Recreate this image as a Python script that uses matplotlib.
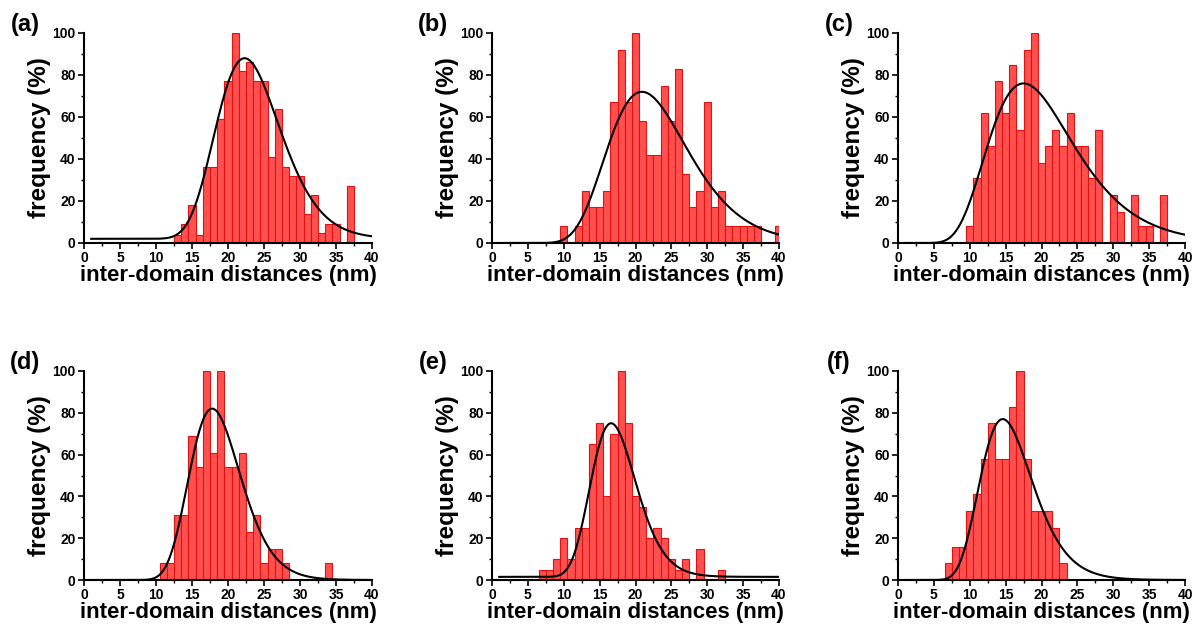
import numpy as np
import matplotlib
matplotlib.use('Agg')
import matplotlib.pyplot as plt
from matplotlib.ticker import MultipleLocator

plt.rcParams['font.family'] = ['Liberation Sans', 'DejaVu Sans']
plt.rcParams['font.weight'] = 'bold'

# histogram data: bin centres (nm) and frequency (%)
a_x = list(range(13, 38))
a_y = [4, 9, 18, 4, 36, 36, 59, 77, 100, 82, 86, 77, 77, 41, 64, 36, 32, 32, 14, 23, 5, 9, 9, 0, 27]

b_x = list(range(10, 41))
b_y = [8, 0, 8, 25, 17, 17, 25, 67, 92, 67, 100, 58, 42, 42, 75, 58, 83, 33, 17, 25, 67, 17, 25,
       8, 8, 8, 8, 8, 0, 0, 8]

c_x = list(range(10, 38))
c_y = [8, 31, 62, 46, 77, 62, 85, 54, 92, 100, 38, 46, 54, 46, 62, 46, 46, 31, 54, 0, 23, 15, 0,
       23, 8, 8, 0, 23]

d_x = list(range(11, 35))
d_y = [8, 8, 31, 31, 69, 54, 100, 61, 100, 54, 54, 61, 23, 31, 8, 15, 15, 8, 0, 0, 0, 0, 0, 8]

e_x = list(range(7, 33))
e_y = [5, 5, 10, 20, 10, 25, 25, 65, 75, 40, 70, 100, 75, 40, 35, 20, 25, 20, 10, 5, 10, 0, 15,
       0, 0, 5]

f_x = list(range(7, 24))
f_y = [8, 16, 16, 33, 41, 58, 75, 58, 58, 83, 100, 58, 33, 33, 33, 25, 8]

# log-normal fit parameters: y0, A, xc, w
fits = {
    'a': (2.0, 86, 22.3, 0.20),
    'b': (0.0, 72, 20.9, 0.27),
    'c': (0.0, 76, 17.5, 0.34),
    'd': (0.0, 82, 17.8, 0.20),
    'e': (1.5, 73.5, 16.6, 0.19),
    'f': (0.0, 77, 14.6, 0.25),
}

panels = [('a', a_x, a_y), ('b', b_x, b_y), ('c', c_x, c_y),
          ('d', d_x, d_y), ('e', e_x, e_y), ('f', f_x, f_y)]

W, H = 1197, 630
cols = [(84, 372), (492, 779), (898, 1185)]
rows = [(33, 243), (371, 580)]


def lognorm(x, y0, A, xc, w):
    return y0 + A * np.exp(-np.log(x / xc) ** 2 / (2 * w ** 2))


fig = plt.figure(figsize=(W / 100, H / 100), dpi=100)

for i, (name, xs, ys) in enumerate(panels):
    l, r = cols[i % 3]
    t, b = rows[i // 3]
    ax = fig.add_axes([l / W, 1 - b / H, (r - l) / W, (b - t) / H])
    ax.bar(xs, ys, width=1.0, color='#ff5050', edgecolor='#e41010', linewidth=0.8)
    xx = np.linspace(1, 40, 400)
    ax.plot(xx, lognorm(xx, *fits[name]), color='black', lw=1.5)
    ax.set_xlim(0, 40)
    ax.set_ylim(0, 100)
    ax.spines['top'].set_visible(False)
    ax.spines['right'].set_visible(False)
    for s in ('left', 'bottom'):
        ax.spines[s].set_linewidth(1.5)
    ax.xaxis.set_major_locator(MultipleLocator(5))
    ax.xaxis.set_minor_locator(MultipleLocator(2.5))
    ax.yaxis.set_major_locator(MultipleLocator(20))
    ax.yaxis.set_minor_locator(MultipleLocator(10))
    ax.tick_params(which='major', direction='out', length=4, width=1.2, labelsize=10, pad=2)
    ax.tick_params(which='minor', direction='out', length=2.5, width=1.0)
    for lab in ax.get_xticklabels() + ax.get_yticklabels():
        lab.set_fontweight('bold')
    ax.set_xlabel('inter-domain distances (nm)', fontsize=16, fontweight='bold', labelpad=0)
    ax.set_ylabel('frequency (%)', fontsize=17.5, fontweight='bold', labelpad=1)
    fig.text((l - 59) / W, 1 - (t - 8) / H, f'({name})', fontsize=17, fontweight='bold',
             ha='center', va='center')

fig.savefig('out.png', dpi=100)
